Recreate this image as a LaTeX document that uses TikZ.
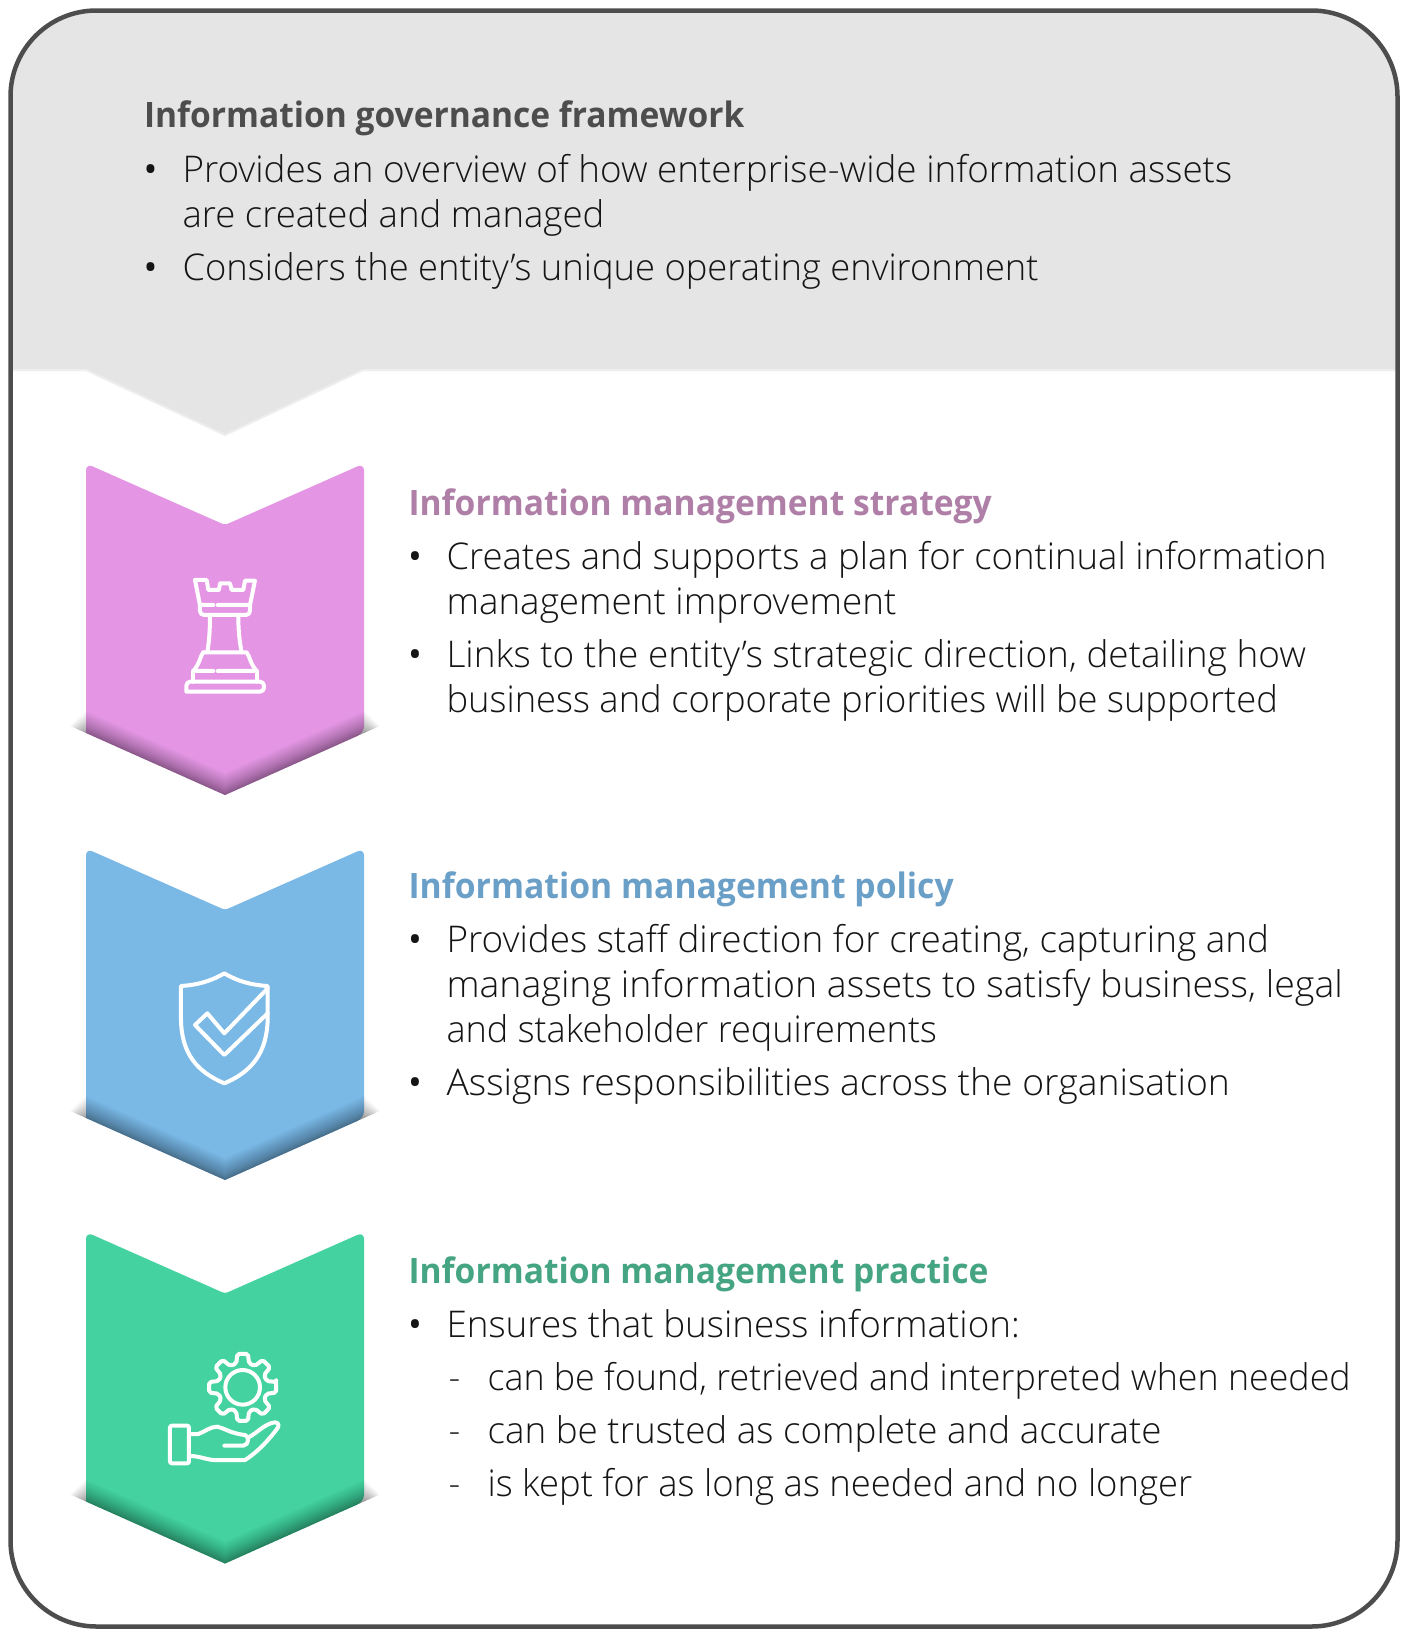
\documentclass[tikz,border=0pt]{standalone}
\usepackage{fontspec}
\setmainfont{Open Sans Light}[BoldFont=Open Sans Bold, BoldFeatures={FakeStretch=0.955}]
\newfontfamily\bulletfont{Open Sans}
\definecolor{frameline}{HTML}{4D4D4D}
\definecolor{topgrey}{HTML}{E5E5E5}
\definecolor{topedge}{HTML}{EEEEEE}
\definecolor{bodytext}{HTML}{151515}
\definecolor{stratfill}{HTML}{E495E4}
\definecolor{polfill}{HTML}{7AB8E6}
\definecolor{pracfill}{HTML}{44D3A0}
\definecolor{stratdark}{HTML}{AF7FA8}
\definecolor{poldark}{HTML}{6A9FC8}
\definecolor{pracdark}{HTML}{45A583}

\begin{document}
\begin{tikzpicture}[x = 1pt, y = -1pt,
	headline/.style = {anchor = base west, font = \fontsize{35}{35}\selectfont\bfseries},
	textline/.style = {anchor = base west, text = bodytext, font = \fontsize{36.8}{37}\selectfont},
	markline/.style = {anchor = base west, text = bodytext, font = \fontsize{36.8}{37}\bulletfont},
	iconline/.style = {draw = white, line width = 4pt, line join = round, line cap = round},
	chevron/.pic = {
		\fill[#1] (0,330) -- (-139,268) [rounded corners = 7pt] -- (-139,-1.5) [rounded corners = 3pt] -- (0,60) [rounded corners = 7pt] -- (139,-1.5) -- (139,268) [sharp corners] -- cycle;
		\foreach \d in {1,...,22} {
			\pgfmathsetmacro{\h}{(\d+\d*\d/22)/2}
			\pgfmathsetmacro{\r}{0.727*\d}
			\fill[black, opacity = 0.018] ({-139-\r},{268-0.446*\r}) -- (-139,268) -- (0,330) -- (139,268) -- ({139+\r},{268-0.446*\r})
				-- (139,268-\h) -- (0,330-\h) -- (-139,268-\h) -- cycle;
		}
	}]
	\useasboundingbox (0,0) rectangle (1409,1638);
	\fill[white] (0,0) rectangle (1409,1638);
	\begin{scope}
		\clip[rounded corners = 86pt] (10.5,10.5) rectangle (1397.5,1626.5);
		\fill[topgrey, draw = topedge, line width = 2pt] (0,0) -- (1409,0) -- (1409,370) -- (363,370) -- (225,435) -- (86,370) -- (0,370) -- cycle;
	\end{scope}
	\draw[frameline, line width = 4.5pt, rounded corners = 86pt] (10.5,10.5) rectangle (1397.5,1626.5);

	\pic at (225,465) {chevron = stratfill};
	\pic at (225,850) {chevron = polfill};
	\pic at (225,1233.5) {chevron = pracfill};

	\begin{scope}[shift = {(50,440)}, x = 0.3333pt, y = -0.3333pt]
		\draw[iconline] (435,420) -- (470,420) -- (475,450) -- (507,450) -- (510,430) -- (540,430) -- (545,450) -- (580,450) -- (585,422) -- (615,422) -- (600,495) -- (503,495);
		\draw[iconline] (435,420) -- (450,495) -- (490,495);
		\draw[iconline, rounded corners = 4pt] (450,495) -- (450,525) -- (600,525) -- (600,495);
		\draw[iconline] (480,525) .. controls (480,570) and (478,600) .. (472,637);
		\draw[iconline] (565,525) .. controls (565,570) and (568,600) .. (575,637);
		\draw[iconline] (460,637) -- (590,637) .. controls (600,650) and (600,670) .. (620,693) -- (503,693);
		\draw[iconline] (460,637) .. controls (450,650) and (450,670) .. (430,693) -- (490,693);
		\draw[iconline] (430,693) -- (430,725);
		\draw[iconline] (620,693) -- (620,725);
		\draw[iconline, rounded corners = 4pt] (409,755) -- (409,725) -- (642,725) -- (642,755) [sharp corners] -- cycle;
	\end{scope}

	\begin{scope}[shift = {(130,950)}, x = 0.3333pt, y = -0.3333pt]
		\draw[iconline] (283,70) .. controls (240,95) and (200,105) .. (153,108) -- (153,210)
			.. controls (155,310) and (200,365) .. (283,400) .. controls (365,365) and (410,310) .. (413,210) -- (413,108)
			.. controls (365,105) and (325,95) .. (283,70) -- cycle;
		\draw[iconline] (413,115) -- (283,250) -- (232,190) -- (195,225) -- (283,315) -- (413,190);
	\end{scope}

	\begin{scope}[shift = {(130,1330)}, x = 0.3333pt, y = -0.3333pt]
		\draw[iconline] (338,172) circle (52);
		\draw[iconline, shift = {(338,172)}, rounded corners = 2pt] (-9:102) \foreach \a in {0,45,...,315} { -- (\a-9:102) -- (\a+9:102) -- (\a+15:74) -- (\a+30:74) } -- cycle;
		\draw[iconline, rounded corners = 2pt] (120,287) rectangle (177,400);
		\draw[iconline] (177,312) -- (205,312) .. controls (225,305) and (240,290) .. (262,290) .. controls (285,295) and (300,310) .. (345,315)
			.. controls (358,318) and (358,345) .. (340,347) -- (283,347);
		\draw[iconline] (356,322) .. controls (380,310) and (405,280) .. (435,277) .. controls (448,277) and (448,290) .. (440,298)
			.. controls (420,325) and (385,365) .. (345,390) -- (250,390) .. controls (225,388) and (210,378) .. (177,378);
	\end{scope}

	\node[headline, text = frameline] (govhead) at (140.5,127.5) {\scalebox{1.0035}[1]{Information governance framework}};
	\node[markline] (govbulA) at (140,182.7) {•};
	\node[textline] (govlineA) at (179,182.7) {Provides an overview of how enterprise-wide information assets};
	\node[textline] (govlineB) at (179,227.7) {\scalebox{0.993}[1]{are created and managed}};
	\node[markline] (govbulB) at (140,280) {•};
	\node[textline] (govlineC) at (179,280) {\scalebox{0.988}[1]{Considers the entity’s unique operating environment}};

	\node[headline, text = stratdark] (strathead) at (405,515) {\scalebox{1.005}[1]{Information management strategy}};
	\node[markline] (stratbulA) at (404.5,569) {•};
	\node[textline] (stratlineA) at (443,569) {\scalebox{0.992}[1]{Creates and supports a plan for continual information}};
	\node[textline] (stratlineB) at (443,614) {management improvement};
	\node[markline] (stratbulB) at (404.5,667.4) {•};
	\node[textline] (stratlineC) at (443,667.4) {\scalebox{1.004}[1]{Links to the entity’s strategic direction, detailing how}};
	\node[textline] (stratlineD) at (443,712) {\scalebox{0.988}[1]{business and corporate priorities will be supported}};

	\node[headline, text = poldark] (polhead) at (405,898) {\scalebox{1.008}[1]{Information management policy}};
	\node[markline] (polbulA) at (404.5,952.5) {•};
	\node[textline] (pollineA) at (443,952.5) {\scalebox{1.002}[1]{Provides staff direction for creating, capturing and}};
	\node[textline] (pollineB) at (443,997.4) {\scalebox{1.018}[1]{managing information assets to satisfy business, legal}};
	\node[textline] (pollineC) at (443,1042.3) {\scalebox{0.981}[1]{and stakeholder requirements}};
	\node[markline] (polbulB) at (404.5,1095.6) {•};
	\node[textline] (pollineD) at (443,1095.6) {\scalebox{1.0135}[1]{Assigns responsibilities across the organisation}};

	\node[headline, text = pracdark] (prachead) at (405,1283.6) {\scalebox{1.005}[1]{Information management practice}};
	\node[markline] (pracbul) at (404.5,1337) {•};
	\node[textline] (praclineA) at (443,1337) {Ensures that business information:};
	\node[textline] (pracdashA) at (445,1390) {-};
	\node[textline] (praclineB) at (484,1390) {\scalebox{0.973}[1]{can be found, retrieved and interpreted when needed}};
	\node[textline] (pracdashB) at (445,1443.4) {-};
	\node[textline] (praclineC) at (484,1443.4) {can be trusted as complete and accurate};
	\node[textline] (pracdashC) at (445,1496.7) {-};
	\node[textline] (praclineD) at (484,1496.7) {\scalebox{0.99}[1]{is kept for as long as needed and no longer}};
\end{tikzpicture}
\end{document}
